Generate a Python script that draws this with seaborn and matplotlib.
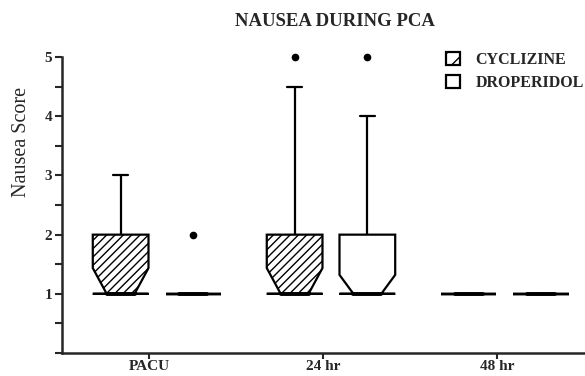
import numpy as np
import pandas as pd
import matplotlib
matplotlib.use("Agg")
import matplotlib.pyplot as plt
import seaborn as sns
from matplotlib.patches import Patch
from matplotlib.ticker import MultipleLocator

times = ["PACU", "24 hr", "48 hr"]
drugs = ["CYCLIZINE", "DROPERIDOL"]

pacu_cyclizine = [1, 1, 1, 1, 1, 1, 1, 1, 2, 2, 2, 2, 3]
pacu_droperidol = [1, 1, 1, 1, 1, 1, 1, 1, 1, 1, 1, 1, 1, 1, 1, 1, 1, 1, 1, 1, 1, 1, 1, 2]
h24_cyclizine = [1, 1, 1, 1, 1, 1, 1, 1, 2, 2, 3, 4.5, 5]
h24_droperidol = [1, 1, 1, 1, 1, 1, 1, 1, 1, 1, 1, 1, 1, 2, 2, 2, 2, 2, 2, 2, 2, 3, 4, 5]
h48_cyclizine = [1, 1, 1, 1, 1, 1, 1, 1, 1, 1, 1, 1, 1]
h48_droperidol = [1, 1, 1, 1, 1, 1, 1, 1, 1, 1, 1, 1, 1, 1, 1, 1, 1, 1, 1, 1, 1, 1, 1, 1]

groups = [
    ("PACU", "CYCLIZINE", pacu_cyclizine),
    ("PACU", "DROPERIDOL", pacu_droperidol),
    ("24 hr", "CYCLIZINE", h24_cyclizine),
    ("24 hr", "DROPERIDOL", h24_droperidol),
    ("48 hr", "CYCLIZINE", h48_cyclizine),
    ("48 hr", "DROPERIDOL", h48_droperidol),
]
rows = []
for t, d, vals in groups:
    for v in vals:
        rows.append({"time": t, "drug": d, "score": v})
df = pd.DataFrame(rows)

sns.set_style("ticks")
plt.rcParams["font.family"] = ["Liberation Serif", "DejaVu Serif"]
plt.rcParams["hatch.linewidth"] = 1.0
plt.rcParams["hatch.color"] = "black"

fig = plt.figure(figsize=(5.85, 3.76), dpi=100)
ax = fig.add_axes([0.106, 0.0612, 0.894, 0.7868])

sns.boxplot(data=df, x="time", y="score", hue="drug", order=times, hue_order=drugs,
            palette=["white", "white"], saturation=1, width=0.836, gap=0.234, whis=2.5,
            notch=True, linecolor="black", linewidth=1.6, legend=False, ax=ax,
            medianprops=dict(linewidth=2.8, solid_capstyle="round", color="black"),
            flierprops=dict(marker="o", markersize=4.5, markerfacecolor="black",
                            markeredgecolor="black"),
            capwidths=0.09)

# hatch cyclizine boxes and keep the notch inside the box
for p in ax.patches:
    path = p.get_path()
    v = path.vertices
    if len(v) == 0:
        continue
    q1 = v[0, 1]
    v[:, 1] = np.maximum(v[:, 1], q1)
    cx = v[:, 0].mean()
    if cx < round(cx):
        p.set_hatch("////")
    p.set_facecolor("white")
    p.set_edgecolor("black")

for ln in ax.lines:
    ln.set_clip_on(False)

ax.set_ylim(0, 5)
ax.set_xlim(-0.546, 2.46)
ax.set_xticks([i - 0.046 for i in range(len(times))])
ax.set_xticklabels(times)
ax.set_yticks([1, 2, 3, 4, 5])
ax.yaxis.set_minor_locator(MultipleLocator(0.5))
ax.tick_params(axis="y", which="both", length=5, width=1.5, direction="out", pad=2)
ax.tick_params(axis="x", length=4, width=1.5, direction="out", pad=1)
for lab in ax.get_yticklabels():
    lab.set_fontweight("bold")
    lab.set_fontsize(11)
for lab in ax.get_xticklabels():
    lab.set_fontweight("bold")
    lab.set_fontsize(11)
ax.set_xlabel("")
ax.set_ylabel("")
fig.text(0.036, 0.622, "Nausea Score", rotation=90, ha="center", va="center",
         fontsize=14.5)
for s in ["top", "right"]:
    ax.spines[s].set_visible(False)
for s in ["left", "bottom"]:
    ax.spines[s].set_linewidth(1.8)

fig.text(0.573, 0.944, "NAUSEA DURING PCA", ha="center", va="center",
         fontsize=13.5, fontweight="bold")

handles = [Patch(facecolor="white", edgecolor="black", hatch="//", linewidth=1.6),
           Patch(facecolor="white", edgecolor="black", linewidth=1.6)]
fig.legend(handles, drugs, loc="upper left", bbox_to_anchor=(0.762, 0.862),
           frameon=False, prop=dict(weight="bold", size=11.5), handlelength=0.86,
           handleheight=0.86, handletextpad=1.0, labelspacing=0.45, borderpad=0,
           borderaxespad=0)

fig.savefig("out.png", dpi=100)
